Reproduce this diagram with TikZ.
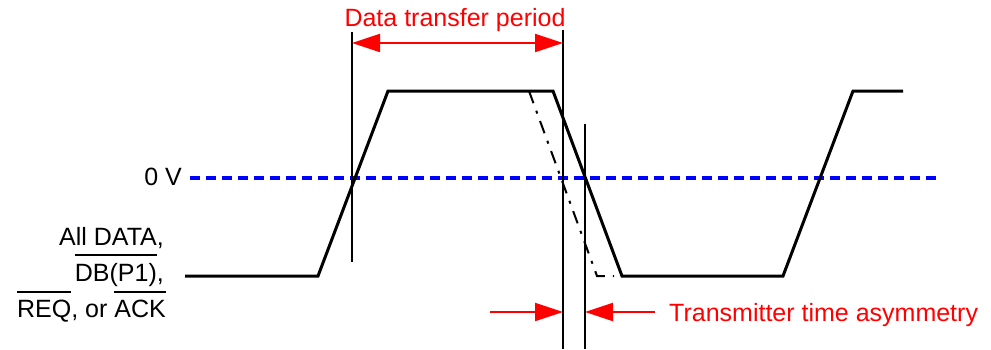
\documentclass[tikz,border=0pt]{standalone}
\usepackage{fontspec}
\setmainfont{Liberation Sans}
\usetikzlibrary{arrows.meta}
\newcommand\ovl[1]{\leavevmode\vbox{\hrule height 1.8pt\kern 7pt\hbox{#1}}}
\begin{document}
\begin{tikzpicture}[x=1pt,y=-1pt,
  sig/.style={line width=3pt,line join=miter},
  vline/.style={line width=2pt},
  redarr/.style={red,line width=2pt,-{Triangle[length=28pt,width=18pt]}},
  zerov/.style={blue,line width=4pt,dash pattern=on 10pt off 6pt},
  alt/.style={line width=2pt,dash pattern=on 13pt off 8pt on 3pt off 8pt},
  lbl/.style={font=\fontsize{25}{29}\selectfont,inner sep=0pt},
  redlbl/.style={lbl,text=red}]
\useasboundingbox (0,0) rectangle (991,349);
% coordinates
\coordinate (s0) at (185,276);
\coordinate (s1) at (318,276);
\coordinate (s2) at (388,91);
\coordinate (s3) at (553,91);
\coordinate (s4) at (622,276);
\coordinate (s5) at (783,276);
\coordinate (s6) at (853,91);
\coordinate (s7) at (903,91);
\coordinate (d0) at (529,91);
\coordinate (d1) at (597,276);
\coordinate (d2) at (614,276);
\coordinate (v1t) at (352,32);
\coordinate (v1b) at (352,262);
\coordinate (v2t) at (563,30);
\coordinate (v2b) at (563,349);
\coordinate (v3t) at (585,124);
\coordinate (v3b) at (585,349);
\coordinate (z0) at (190,178);
\coordinate (z1) at (940,178);
\coordinate (a1) at (490,312);
\coordinate (a2) at (655,312);
% zero volt line
\draw[zerov] (z0) -- (z1);
% signal
\draw[sig] (s0) -- (s1) -- (s2) -- (s3) -- (s4) -- (s5) -- (s6) -- (s7);
\draw[alt] (d0) -- (d1) -- (d2);
% vertical markers
\draw[vline] (v1t) -- (v1b);
\draw[vline] (v2t) -- (v2b);
\draw[vline] (v3t) -- (v3b);
% data transfer period
\draw[redarr] (457,43) -- (v1t |- 0,43);
\draw[redarr] (457,43) -- (v2t |- 0,43);
\node[redlbl,anchor=base] (dtp) at (455,26) {Data transfer period};
% asymmetry arrows
\draw[redarr] (a1) -- (v2t |- a1);
\draw[redarr] (a2) -- (v3t |- a2);
\node[redlbl,anchor=base west] (tta) at (669,321) {Transmitter time asymmetry};
% labels
\node[lbl,anchor=base east] (zv) at (182,185) {0 V};
\node[lbl,anchor=base east] (l1) at (164,245) {All DATA,};
\node[lbl,anchor=base east] (l2) at (164,281) {\ovl{DB(P1)},};
\node[lbl,anchor=base east] (l3) at (166,317) {\ovl{REQ}, or \ovl{ACK}};
\end{tikzpicture}
\end{document}
